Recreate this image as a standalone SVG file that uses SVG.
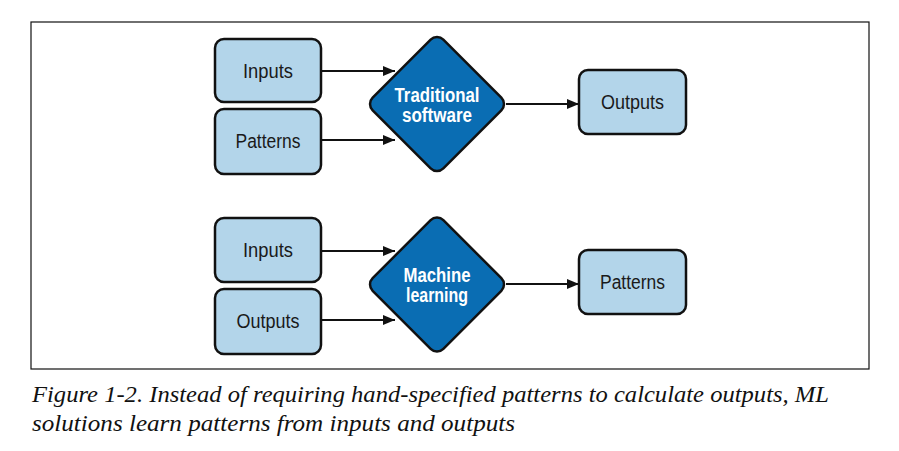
<svg xmlns="http://www.w3.org/2000/svg" width="899" height="451" viewBox="0 0 899 451">
<defs>
<style>
.box{fill:#b3d5ea;stroke:#111;stroke-width:2.5}
.dia{fill:#0a6db3;stroke:#111;stroke-width:2.5}
.lbl{font-size:20px;fill:#1a1a1a;text-anchor:middle}
.dlbl{font-size:20px;fill:#fff;text-anchor:middle;font-weight:600}
.con{stroke:#111;stroke-width:2.2;fill:none}
.cap{font-style:italic;font-size:23px;fill:#111}
</style>
<marker id="ah" markerWidth="12" markerHeight="10" refX="12" refY="5" orient="auto" markerUnits="userSpaceOnUse">
<path d="M0,0 L12,5 L0,10 Z" fill="#111"/>
</marker>
</defs>
<rect width="899" height="451" fill="#fff"/>
<rect x="31" y="22" width="838" height="347" fill="none" stroke="#111" stroke-width="1.2"/>

<g id="connectors">
<line class="con" x1="321" y1="71" x2="395" y2="71" marker-end="url(#ah)"/>
<line class="con" x1="321" y1="140" x2="395" y2="140" marker-end="url(#ah)"/>
<line class="con" x1="506" y1="104" x2="579" y2="104" marker-end="url(#ah)"/>
<line class="con" x1="321" y1="251" x2="395" y2="251" marker-end="url(#ah)"/>
<line class="con" x1="321" y1="320" x2="395" y2="320" marker-end="url(#ah)"/>
<line class="con" x1="506" y1="284" x2="579" y2="284" marker-end="url(#ah)"/>
</g>

<g id="inputs1" font-family="Liberation Sans, Arial, sans-serif">
<rect class="box" x="215" y="39" width="106" height="63" rx="9"/>
<text class="lbl" x="268" y="78" textLength="50" lengthAdjust="spacingAndGlyphs">Inputs</text>
</g>
<g id="patterns1" font-family="Liberation Sans, Arial, sans-serif">
<rect class="box" x="215" y="109" width="106" height="65" rx="9"/>
<text class="lbl" x="268" y="148" textLength="65" lengthAdjust="spacingAndGlyphs">Patterns</text>
</g>
<g id="traditional" font-family="Liberation Sans, Arial, sans-serif">
<rect class="dia" x="387" y="54" width="100" height="100" rx="9" transform="rotate(45 437 104)"/>
<text class="dlbl" x="437" y="102" textLength="85" lengthAdjust="spacingAndGlyphs">Traditional</text>
<text class="dlbl" x="437" y="122" textLength="70" lengthAdjust="spacingAndGlyphs">software</text>
</g>
<g id="outputs1" font-family="Liberation Sans, Arial, sans-serif">
<rect class="box" x="579" y="70" width="107" height="64" rx="9"/>
<text class="lbl" x="632.5" y="109" textLength="63" lengthAdjust="spacingAndGlyphs">Outputs</text>
</g>

<g id="inputs2" font-family="Liberation Sans, Arial, sans-serif">
<rect class="box" x="215" y="218" width="106" height="64" rx="9"/>
<text class="lbl" x="268" y="257" textLength="50" lengthAdjust="spacingAndGlyphs">Inputs</text>
</g>
<g id="outputs2" font-family="Liberation Sans, Arial, sans-serif">
<rect class="box" x="215" y="289" width="106" height="65" rx="9"/>
<text class="lbl" x="268" y="328" textLength="63" lengthAdjust="spacingAndGlyphs">Outputs</text>
</g>
<g id="ml" font-family="Liberation Sans, Arial, sans-serif">
<rect class="dia" x="387" y="234.5" width="100" height="100" rx="9" transform="rotate(45 437 284.5)"/>
<text class="dlbl" x="437" y="282" textLength="67" lengthAdjust="spacingAndGlyphs">Machine</text>
<text class="dlbl" x="437" y="302" textLength="62" lengthAdjust="spacingAndGlyphs">learning</text>
</g>
<g id="patterns2" font-family="Liberation Sans, Arial, sans-serif">
<rect class="box" x="579" y="250" width="107" height="64" rx="9"/>
<text class="lbl" x="632.5" y="289" textLength="65" lengthAdjust="spacingAndGlyphs">Patterns</text>
</g>

<g id="caption" font-family="Liberation Serif, Times New Roman, serif">
<text class="cap" x="32" y="402" textLength="797" lengthAdjust="spacingAndGlyphs">Figure 1-2. Instead of requiring hand-specified patterns to calculate outputs, ML</text>
<text class="cap" x="32" y="431" textLength="483" lengthAdjust="spacingAndGlyphs">solutions learn patterns from inputs and outputs</text>
</g>
</svg>
